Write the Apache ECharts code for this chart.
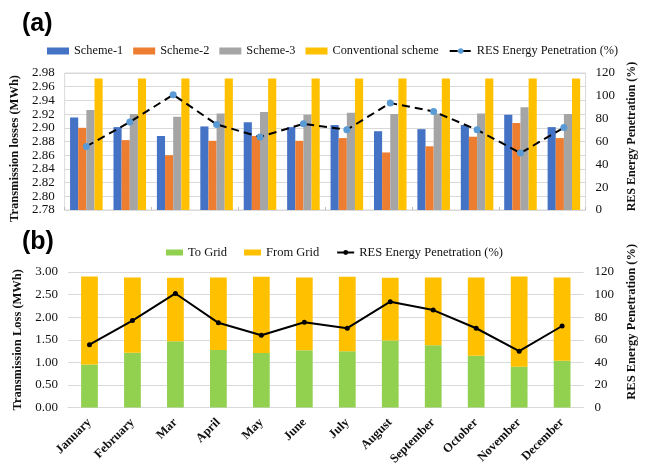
<!DOCTYPE html>
<html>
<head>
<meta charset="utf-8">
<script src="https://cdn.jsdelivr.net/npm/echarts@6/dist/echarts.min.js"></script>
<style>
  html, body { margin: 0; padding: 0; background: #fff; overflow: hidden;
               width: 646px; height: 468px; }
  #chart { width: 646px; height: 468px; position: absolute; left: 0; top: 0; }
</style>
</head>
<body>
<div id="chart"></div>
<script>
// Monthly categories shared by both panels
const months = ['January', 'February', 'Mar', 'April', 'May', 'June', 'July',
                'August', 'September', 'October', 'November', 'December'];

// Panel (a): transmission losses per scheme (MWh)
const scheme1 = [2.915, 2.901, 2.888, 2.902, 2.908, 2.901, 2.904, 2.895, 2.898, 2.904, 2.919, 2.901];
const scheme2 = [2.900, 2.882, 2.860, 2.881, 2.888, 2.881, 2.885, 2.864, 2.873, 2.887, 2.907, 2.885];
const scheme3 = [2.926, 2.920, 2.916, 2.921, 2.923, 2.919, 2.922, 2.920, 2.921, 2.921, 2.930, 2.920];
const conventional = [2.972, 2.972, 2.972, 2.972, 2.972, 2.972, 2.972, 2.972, 2.972, 2.972, 2.972, 2.972];

// RES energy penetration (%), drawn in both panels
const resPenetration = [55.7, 77, 101, 75, 64, 75.5, 70.3, 93.7, 86.3, 70.2, 49.9, 72.2];

// Panel (b): transmission loss split (MWh)
const toGrid = [0.953, 1.212, 1.465, 1.275, 1.205, 1.268, 1.247, 1.486, 1.380, 1.149, 0.904, 1.037];
const fromGrid = [1.947, 1.668, 1.408, 1.605, 1.689, 1.612, 1.647, 1.387, 1.500, 1.731, 1.996, 1.843];

// Axis ticks
const lossTicksA = { min: 2.78, max: 2.98, interval: 0.02 };
const lossTicksB = { min: 0, max: 3, interval: 0.5 };
const penTicks = { min: 0, max: 120, interval: 20 };

const SERIF = '"Liberation Serif", "Times New Roman", serif';
const SANS = '"Liberation Sans", Arial, sans-serif';
const GRID_LINE = '#d9d9d9';
const TEXT = '#111';
const PEN_NAME = 'RES Energy Penetration (%)';

const chart = echarts.init(document.getElementById('chart'), null,
  { renderer: 'canvas', width: 646, height: 468 });

const axisNameStyle = { fontFamily: SERIF, fontWeight: 'bold', fontSize: 12.5, color: TEXT };
const tickLabel = { fontFamily: SERIF, fontSize: 13, color: TEXT };

chart.setOption({
  animation: false,
  backgroundColor: '#fff',
  title: [
    { text: '(a)', left: 22, top: 12, padding: 0,
      textStyle: { fontFamily: SANS, fontWeight: 'bold', fontSize: 25, color: '#000' } },
    { text: '(b)', left: 22, top: 230, padding: 0,
      textStyle: { fontFamily: SANS, fontWeight: 'bold', fontSize: 25, color: '#000' } }
  ],
  legend: [
    {
      left: 47, top: 45, padding: 0,
      itemWidth: 22, itemHeight: 7, itemGap: 10,
      textStyle: { fontFamily: SERIF, fontSize: 12.3, color: TEXT },
      data: [
        { name: 'Scheme-1', icon: 'rect' },
        { name: 'Scheme-2', icon: 'rect' },
        { name: 'Scheme-3', icon: 'rect' },
        { name: 'Conventional scheme', icon: 'rect' },
        { name: PEN_NAME }
      ]
    },
    {
      left: 166, top: 246, padding: 0,
      itemWidth: 17, itemHeight: 6, itemGap: 17,
      textStyle: { fontFamily: SERIF, fontSize: 12.5, color: TEXT },
      data: [
        { name: 'To Grid', icon: 'rect' },
        { name: 'From Grid', icon: 'rect' },
        { name: PEN_NAME + ' ' }
      ]
    }
  ],
  grid: [
    { left: 63, right: 45, top: 73, height: 137, show: true,
      borderColor: GRID_LINE, borderWidth: 1, backgroundColor: 'transparent' },
    { left: 68, right: 44, top: 272, height: 143 }
  ],
  xAxis: [
    {
      type: 'category', gridIndex: 0, data: months,
      axisLine: { show: true, lineStyle: { color: GRID_LINE } },
      axisTick: { show: true, inside: true, length: 3, lineStyle: { color: '#bfbfbf' } },
      axisLabel: { show: false }
    },
    {
      type: 'category', gridIndex: 1, data: months,
      axisLine: { show: true, lineStyle: { color: GRID_LINE } },
      axisTick: { show: false },
      axisLabel: { rotate: 45, margin: 13, interval: 0,
        fontFamily: SERIF, fontWeight: 'bold', fontSize: 12.5, color: TEXT }
    }
  ],
  yAxis: [
    {
      type: 'value', gridIndex: 0, position: 'left',
      min: lossTicksA.min, max: lossTicksA.max, interval: lossTicksA.interval,
      name: 'Transmission losses (MWh)', nameLocation: 'middle', nameGap: 36,
      nameTextStyle: Object.assign({}, axisNameStyle, { padding: [0, 14, 0, 0] }),
      axisLine: { show: false }, axisTick: { show: false },
      axisLabel: Object.assign({}, tickLabel, { margin: 10,
        formatter: v => v.toFixed(2) }),
      splitLine: { lineStyle: { color: GRID_LINE } }
    },
    {
      type: 'value', gridIndex: 0, position: 'right',
      min: penTicks.min, max: penTicks.max, interval: penTicks.interval,
      name: PEN_NAME, nameLocation: 'middle', nameGap: 31,
      nameTextStyle: Object.assign({}, axisNameStyle, { fontSize: 12, padding: [0, 0, 0, 10] }),
      axisLine: { show: false }, axisTick: { show: false },
      axisLabel: Object.assign({}, tickLabel, { margin: 10 }),
      splitLine: { show: false }
    },
    {
      type: 'value', gridIndex: 1, position: 'left',
      min: lossTicksB.min, max: lossTicksB.max, interval: lossTicksB.interval,
      name: 'Transmission Loss (MWh)', nameLocation: 'middle', nameGap: 36,
      nameTextStyle: axisNameStyle,
      axisLine: { show: false }, axisTick: { show: false },
      axisLabel: Object.assign({}, tickLabel, { margin: 10,
        formatter: v => v.toFixed(2) }),
      splitLine: { lineStyle: { color: GRID_LINE } }
    },
    {
      type: 'value', gridIndex: 1, position: 'right',
      min: penTicks.min, max: penTicks.max, interval: penTicks.interval,
      name: PEN_NAME, nameLocation: 'middle', nameGap: 30,
      nameTextStyle: Object.assign({}, axisNameStyle, { padding: [0, 0, 0, 36] }),
      axisLine: { show: false }, axisTick: { show: false },
      axisLabel: Object.assign({}, tickLabel, { margin: 11 }),
      splitLine: { show: false }
    }
  ],
  series: [
    { name: 'Scheme-1', type: 'bar', xAxisIndex: 0, yAxisIndex: 0, data: scheme1,
      itemStyle: { color: '#4472C4' }, barGap: '0%', barCategoryGap: '25%' },
    { name: 'Scheme-2', type: 'bar', xAxisIndex: 0, yAxisIndex: 0, data: scheme2,
      itemStyle: { color: '#ED7D31' }, barGap: '0%', barCategoryGap: '25%' },
    { name: 'Scheme-3', type: 'bar', xAxisIndex: 0, yAxisIndex: 0, data: scheme3,
      itemStyle: { color: '#A5A5A5' }, barGap: '0%', barCategoryGap: '25%' },
    { name: 'Conventional scheme', type: 'bar', xAxisIndex: 0, yAxisIndex: 0, data: conventional,
      itemStyle: { color: '#FFC000' }, barGap: '0%', barCategoryGap: '25%' },
    { name: PEN_NAME, type: 'line', xAxisIndex: 0, yAxisIndex: 1, data: resPenetration,
      symbol: 'circle', symbolSize: 7, z: 5,
      lineStyle: { color: '#000', width: 2, type: [8, 5] },
      itemStyle: { color: '#5B9BD5' } },

    { name: 'To Grid', type: 'bar', xAxisIndex: 1, yAxisIndex: 2, stack: 'loss', data: toGrid,
      itemStyle: { color: '#92D050' }, barCategoryGap: '61%' },
    { name: 'From Grid', type: 'bar', xAxisIndex: 1, yAxisIndex: 2, stack: 'loss', data: fromGrid,
      itemStyle: { color: '#FFC000' }, barCategoryGap: '61%' },
    { name: PEN_NAME + ' ', type: 'line', xAxisIndex: 1, yAxisIndex: 3, data: resPenetration,
      symbol: 'circle', symbolSize: 5, z: 5,
      lineStyle: { color: '#000', width: 2 },
      itemStyle: { color: '#000' } }
  ]
});
</script>
</body>
</html>
